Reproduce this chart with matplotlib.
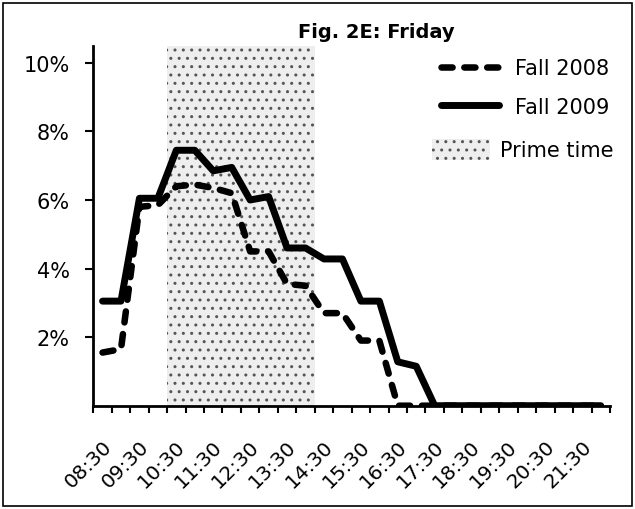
import numpy as np
import matplotlib
matplotlib.use('Agg')
import matplotlib.pyplot as plt
import matplotlib.transforms as mtransforms
from matplotlib.lines import Line2D
from matplotlib.patches import Patch, Rectangle

# half-hour slots 08:30 .. 22:00
slots = ['08:30', '09:00', '09:30', '10:00', '10:30', '11:00', '11:30', '12:00',
         '12:30', '13:00', '13:30', '14:00', '14:30', '15:00', '15:30', '16:00',
         '16:30', '17:00', '17:30', '18:00', '18:30', '19:00', '19:30', '20:00',
         '20:30', '21:00', '21:30', '22:00']

fall_2008 = [1.55, 1.65, 5.8, 5.85, 6.4, 6.45, 6.35, 6.2, 4.5, 4.5, 3.55, 3.5,
             2.7, 2.7, 1.9, 1.9, 0.0, 0.0, 0.0, 0.0, 0.0, 0.0, 0.0, 0.0,
             0.0, 0.0, 0.0, 0.0]
fall_2009 = [3.05, 3.05, 6.05, 6.05, 7.45, 7.45, 6.85, 6.95, 6.0, 6.1, 4.6, 4.6,
             4.28, 4.28, 3.05, 3.05, 1.28, 1.15, 0.0, 0.0, 0.0, 0.0, 0.0, 0.0,
             0.0, 0.0, 0.0, 0.0]

prime_start, prime_end = '10:30', '14:00'
y_ticks = [0, 2, 4, 6, 8, 10]

W, H = 635, 510
fig = plt.figure(figsize=(W/100, H/100), dpi=100)
ax = fig.add_axes([93.3/W, 1 - 406.7/H, (610 - 93.3)/W, (406.7 - 46.7)/H])

x = np.arange(len(slots))
i0, i1 = slots.index(prime_start), slots.index(prime_end)

shade = dict(facecolor='#eeeeee', edgecolor='#555555', hatch='..', lw=0)
ax.axvspan(i0 - 0.5, i1 + 0.5, zorder=0, **shade)

lw_d, lw_s = 4.7, 5.0
dash = (0, (1.7, 1.8))
ax.plot(x, fall_2008, color='black', lw=lw_d, linestyle=dash,
        dash_capstyle='round', zorder=3)
ax.plot(x, fall_2009, color='black', lw=lw_s, solid_capstyle='round',
        solid_joinstyle='round', zorder=2)

ax.set_xlim(-0.5, len(slots) - 0.5)
ax.set_ylim(0, 10.5)

ax.set_xticks(x[::2])
ax.set_xticklabels(slots[::2], rotation=45, ha='right', va='center',
                   rotation_mode='anchor', fontsize=14.5)
ax.set_xticks(np.arange(-0.5, len(slots)), minor=True)
ax.tick_params(axis='x', which='major', length=0, pad=27)
ax.tick_params(axis='x', which='minor', length=5, width=1.5, direction='out')
shift = mtransforms.ScaledTranslation(6/100, 0, fig.dpi_scale_trans)
for lab in ax.get_xticklabels():
  lab.set_transform(lab.get_transform() + shift)

ax.set_yticks([v for v in y_ticks if v > 0])
ax.set_yticklabels([f'{v}%' for v in y_ticks if v > 0], fontsize=15)
ax.tick_params(axis='y', length=6, width=1.5, direction='out', pad=11)

for side in ['top', 'right']:
  ax.spines[side].set_visible(False)
for side in ['left', 'bottom']:
  ax.spines[side].set_linewidth(2)

fig.text(376/W, 1 - 33/H, 'Fig. 2E: Friday', fontsize=14, fontweight='bold',
         ha='center', va='center')

line_handles = [
  Line2D([], [], color='black', lw=lw_d, linestyle=dash, dash_capstyle='round'),
  Line2D([], [], color='black', lw=lw_s, solid_capstyle='round'),
]
leg1 = fig.legend(line_handles, ['Fall 2008', 'Fall 2009'],
                  loc='upper left', bbox_to_anchor=(441/W, 1 - 59/H),
                  frameon=False, fontsize=15, handlelength=2.8,
                  handletextpad=0.75, labelspacing=0.9, borderpad=0,
                  borderaxespad=0)
leg2 = fig.legend([Patch(**shade)], ['Prime time'],
                  loc='upper left', bbox_to_anchor=(432/W, 1 - 140/H),
                  frameon=False, fontsize=15, handlelength=2.8,
                  handleheight=1.15, handletextpad=0.45, borderpad=0,
                  borderaxespad=0)

fig.patches.append(Rectangle((3/W, 3/H), 629/W, 503/H, transform=fig.transFigure,
                             fill=False, edgecolor='black', lw=1.2))

fig.savefig('out.png', dpi=100)
